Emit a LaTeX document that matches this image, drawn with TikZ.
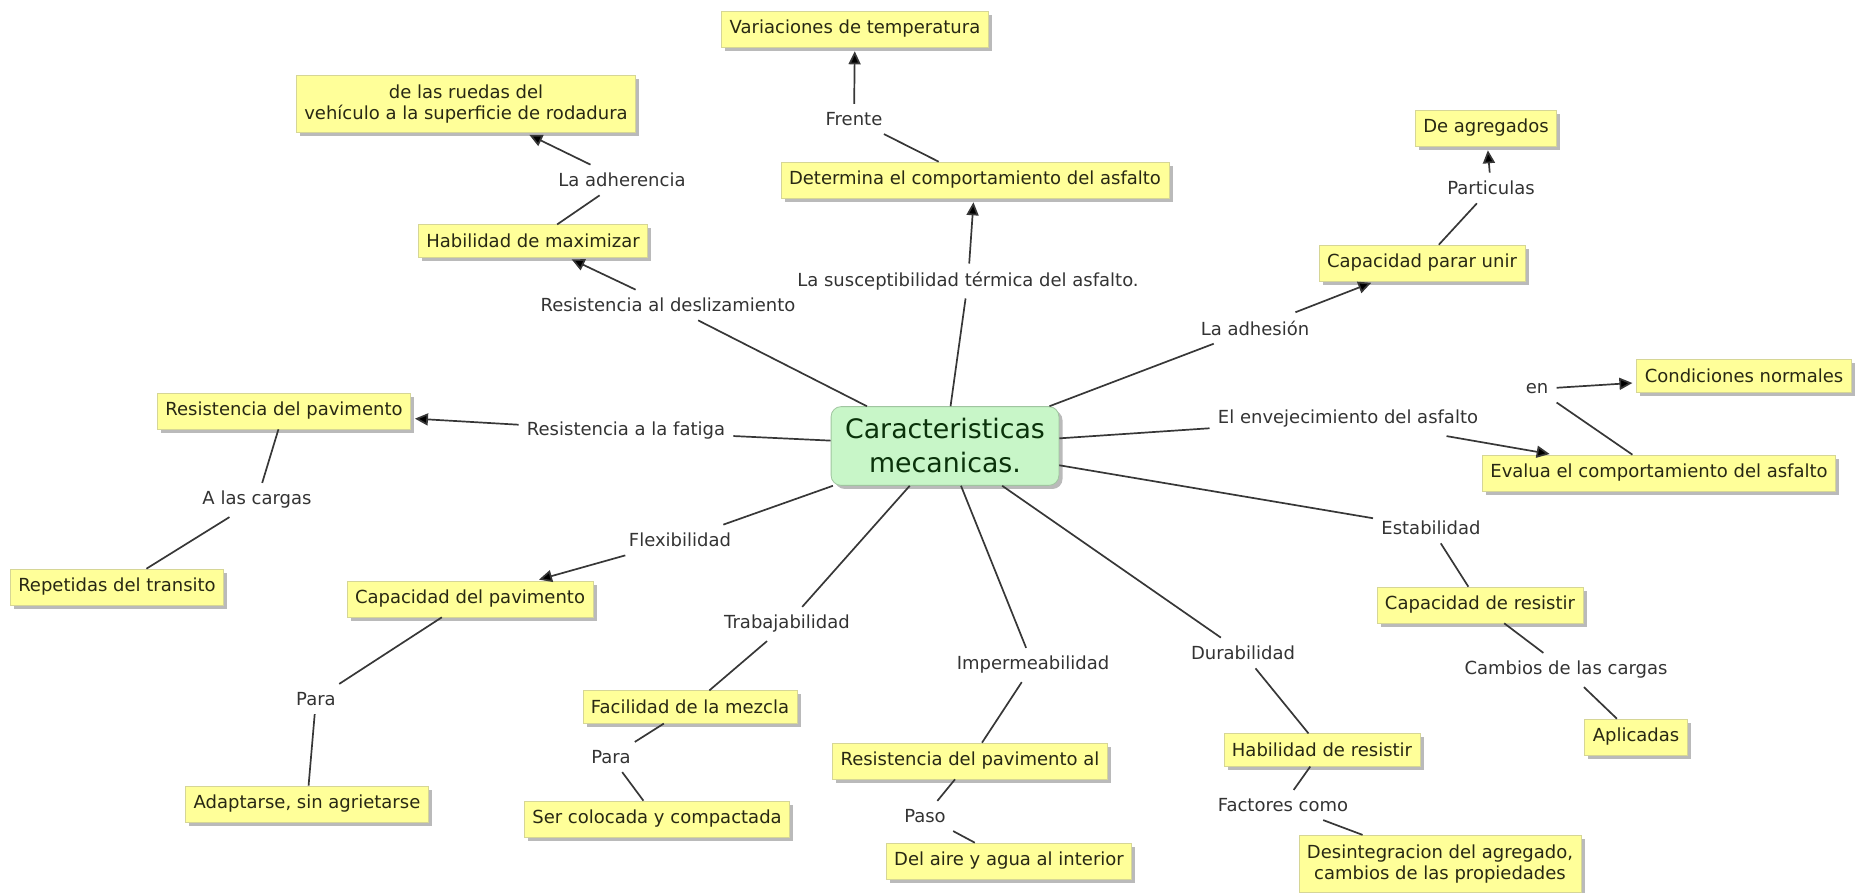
\documentclass[tikz,border=0pt]{standalone}
\usepackage{fontspec}
\setmainfont{DejaVu Sans}
\usepackage{tikz}
\usetikzlibrary{arrows.meta,shadows}

\definecolor{cfill}{RGB}{255,255,153}
\definecolor{cedge}{RGB}{214,214,150}
\definecolor{ctext}{RGB}{40,40,20}
\definecolor{corefill}{RGB}{200,246,200}
\definecolor{coretext}{RGB}{10,50,10}
\definecolor{lcol}{RGB}{55,55,55}

\begin{document}
\begin{tikzpicture}[
  x=0.5pt, y=-0.5pt,
  concept/.style={draw=cedge, line width=0.4pt, fill=cfill, text=ctext, align=center,
    font=\fontsize{9}{10.8}\selectfont, inner xsep=4pt, inner ysep=4.6pt,
    drop shadow={shadow xshift=1.8pt, shadow yshift=-1.8pt, fill=black!45, opacity=0.6}},
  core/.style={concept, draw=corefill!80!black, fill=corefill, text=coretext, rounded corners=5pt,
    font=\fontsize{13.4}{17}\selectfont, inner xsep=7pt, inner ysep=6pt},
  linkw/.style={text=black!80, font=\fontsize{9}{10.8}\selectfont, inner sep=4pt},
  line/.style={draw=lcol, line width=0.85pt},
  arr/.style={line, -{Triangle[length=6.5pt, width=6pt, fill=black]}, shorten >=2pt},
]
  \useasboundingbox (0,0) rectangle (1870,893);

  % Central concept
  \node[core] (core) at (945,446) {Caracteristicas\\mecanicas.};

  % Upper branches
  \node[linkw] (l_desl) at (668,305) {Resistencia al deslizamiento};
  \node[concept] (c_hab) at (533,241) {Habilidad de maximizar};
  \node[linkw] (l_adh) at (622,180) {La adherencia};
  \node[concept] (c_rued) at (466,104) {de las ruedas del\\vehículo a la superficie de rodadura};

  \node[linkw] (l_susc) at (968,281) {La susceptibilidad térmica del asfalto.};
  \node[concept] (c_det) at (975,180) {Determina el comportamiento del asfalto};
  \node[linkw] (l_fren) at (854,119) {Frente};
  \node[concept] (c_var) at (855,29) {Variaciones de temperatura};

  \node[linkw] (l_adhs) at (1255,328) {La adhesión};
  \node[concept] (c_cap) at (1422,263) {Capacidad parar unir};
  \node[linkw] (l_part) at (1491,188) {Particulas};
  \node[concept] (c_agr) at (1486,128) {De agregados};

  % Right branches
  \node[linkw] (l_env) at (1348,419) {El envejecimiento del asfalto};
  \node[concept] (c_eval) at (1659,473) {Evalua el comportamiento del asfalto};
  \node[linkw] (l_en) at (1537,389) {en};
  \node[concept] (c_cond) at (1744,376) {Condiciones normales};

  \node[linkw] (l_est) at (1431,528) {Estabilidad};
  \node[concept] (c_cres) at (1480,605) {Capacidad de resistir};
  \node[linkw] (l_camb) at (1566,670) {Cambios de las cargas};
  \node[concept] (c_apl) at (1636,737) {Aplicadas};

  % Left branches
  \node[linkw] (l_fat) at (626,431) {Resistencia a la fatiga};
  \node[concept] (c_rpav) at (284,411) {Resistencia del pavimento};
  \node[linkw] (l_carg) at (257,500) {A las cargas};
  \node[concept] (c_rep) at (117,587) {Repetidas del transito};

  \node[linkw] (l_flex) at (680,540) {Flexibilidad};
  \node[concept] (c_cpav) at (470,599) {Capacidad del pavimento};
  \node[linkw] (l_para1) at (316,699) {Para};
  \node[concept] (c_adap) at (307,804) {Adaptarse, sin agrietarse};

  % Lower branches
  \node[linkw] (l_trab) at (787,624) {Trabajabilidad};
  \node[concept] (c_fac) at (690,707) {Facilidad de la mezcla};
  \node[linkw] (l_para2) at (611,757) {Para};
  \node[concept] (c_ser) at (657,819) {Ser colocada y compactada};

  \node[linkw] (l_imp) at (1033,665) {Impermeabilidad};
  \node[concept] (c_rpal) at (970,761) {Resistencia del pavimento al};
  \node[linkw] (l_paso) at (925,816) {Paso};
  \node[concept] (c_aire) at (1009,861) {Del aire y agua al interior};

  \node[linkw] (l_dur) at (1243,653) {Durabilidad};
  \node[concept] (c_hres) at (1322,750) {Habilidad de resistir};
  \node[linkw] (l_fact) at (1283,805) {Factores como};
  \node[concept] (c_des) at (1440,864) {Desintegracion del agregado,\\cambios de las propiedades};

  % Connectors
  \draw[line] (core) -- (l_desl);
  \draw[arr] (l_desl) -- (c_hab);
  \draw[line] (c_hab) -- (l_adh);
  \draw[arr] (l_adh) -- (c_rued);

  \draw[line] (core) -- (l_susc);
  \draw[arr] (l_susc) -- (c_det);
  \draw[line] (c_det) -- (l_fren);
  \draw[arr] (l_fren) -- (c_var);

  \draw[line] (core) -- (l_adhs);
  \draw[arr] (l_adhs) -- (c_cap);
  \draw[line] (c_cap) -- (l_part);
  \draw[arr] (l_part) -- (c_agr);

  \draw[line] (core) -- (l_env);
  \draw[arr] (l_env) -- (c_eval);
  \draw[line] (c_eval) -- (l_en);
  \draw[arr] (l_en) -- (c_cond);

  \draw[line] (core) -- (l_est);
  \draw[line] (l_est) -- (c_cres);
  \draw[line] (c_cres) -- (l_camb);
  \draw[line] (l_camb) -- (c_apl);

  \draw[line] (core) -- (l_fat);
  \draw[arr] (l_fat) -- (c_rpav);
  \draw[line] (c_rpav) -- (l_carg);
  \draw[line] (l_carg) -- (c_rep);

  \draw[line] (core) -- (l_flex);
  \draw[arr] (l_flex) -- (c_cpav);
  \draw[line] (c_cpav) -- (l_para1);
  \draw[line] (l_para1) -- (c_adap);

  \draw[line] (core) -- (l_trab);
  \draw[line] (l_trab) -- (c_fac);
  \draw[line] (c_fac) -- (l_para2);
  \draw[line] (l_para2) -- (c_ser);

  \draw[line] (core) -- (l_imp);
  \draw[line] (l_imp) -- (c_rpal);
  \draw[line] (c_rpal) -- (l_paso);
  \draw[line] (l_paso) -- (c_aire);

  \draw[line] (core) -- (l_dur);
  \draw[line] (l_dur) -- (c_hres);
  \draw[line] (c_hres) -- (l_fact);
  \draw[line] (l_fact) -- (c_des);
\end{tikzpicture}
\end{document}
